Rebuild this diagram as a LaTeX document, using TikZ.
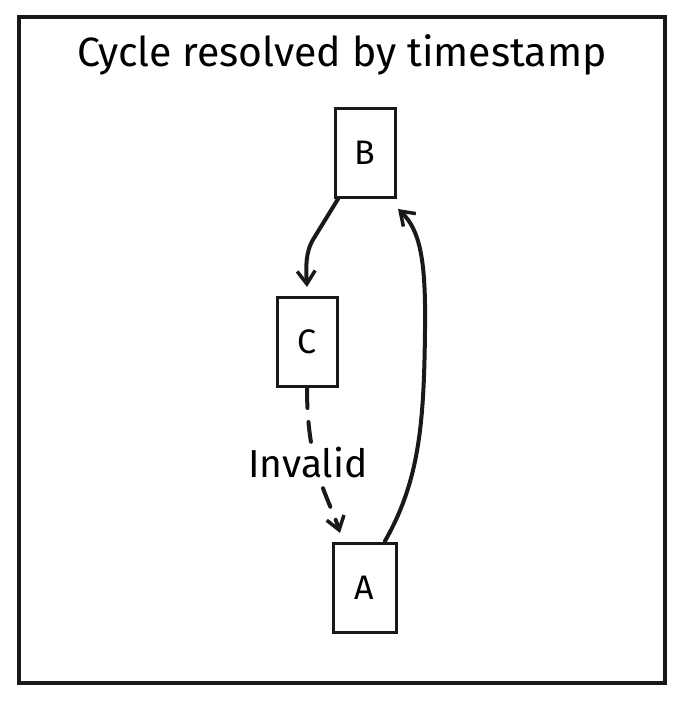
\documentclass[tikz,border=0pt]{standalone}
\usepackage{fontspec}
\setmainfont{Fira Sans}
\usetikzlibrary{arrows.meta}
\begin{document}
\begin{tikzpicture}[x=1pt,y=-1pt,
  box/.style={draw=black!90,line width=3pt,minimum width=60pt,minimum height=89pt,inner sep=0pt,font=\fontsize{34}{36}\selectfont},
  conn/.style={draw=black!90,line width=4pt,line cap=round,-{Straight Barb[length=13pt,width=18pt,line width=3.5pt]}},
  lbl/.style={fill=white,inner sep=2pt,font=\fontsize{39}{42}\selectfont}]
\useasboundingbox (0,0) rectangle (685,701);
\fill[white] (0,0) rectangle (685,701);
\draw[black!90,line width=3.5pt] (19,17) rectangle (665,683);
\node[font=\fontsize{41}{44}\selectfont] (title) at (342,55) {Cycle resolved by timestamp};
\node[box] (B) at (365,153) {B};
\node[box] (C) at (307.5,341.5) {C};
\node[box,minimum width=63pt] (A) at (364.5,588) {A};
\coordinate (bs) at (338,199);
\coordinate (ct) at (307,287);
\draw[conn] (bs) -- (314,238) .. controls (305,252) and (306,268) .. (ct);
\coordinate (cs) at (307,388);
\coordinate (at) at (340,533);
\draw[conn,dash pattern=on 20pt off 14pt] (cs) .. controls (307,470) and (330,500) .. (at);
\node[lbl] (inv) at (308,463) {Invalid};
\coordinate (as) at (385,541);
\coordinate (bt) at (398,209);
\draw[conn] (as) .. controls (420,480) and (424,420) .. (425,330) .. controls (426,260) and (420,230) .. (bt);
\end{tikzpicture}
\end{document}
